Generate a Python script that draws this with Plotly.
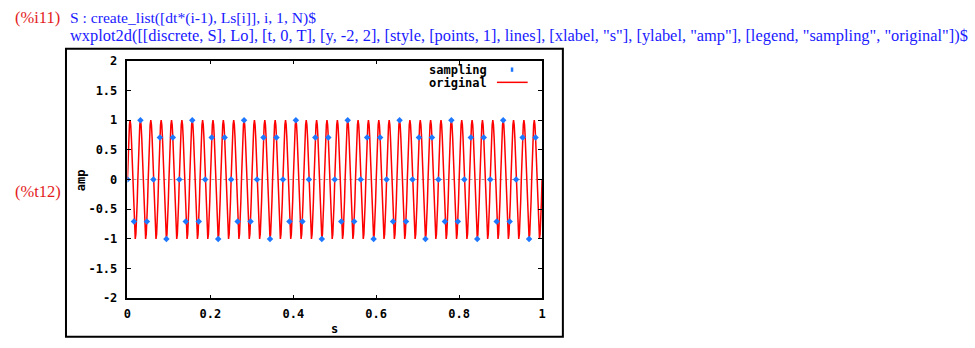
import numpy as np
import plotly.graph_objects as go

# ---------------- data ----------------
DT = 1 / 64
SAMPLE_VALUES = [
    0, -0.707, 1, -0.707, 0, 0.707, -1, 0.707,
    0, -0.707, 1, -0.707, 0, 0.707, -1, 0.707,
    0, -0.707, 1, -0.707, 0, 0.707, -1, 0.707,
    0, -0.707, 1, -0.707, 0, 0.707, -1, 0.707,
    0, -0.707, 1, -0.707, 0, 0.707, -1, 0.707,
    0, -0.707, 1, -0.707, 0, 0.707, -1, 0.707,
    0, -0.707, 1, -0.707, 0, 0.707, -1, 0.707,
    0, -0.707, 1, -0.707, 0, 0.707, -1, 0.707,
]
SAMPLE_T = np.arange(len(SAMPLE_VALUES)) * DT

# one period of the "original" waveform (40 periods on [0, 1])
ORIG_CYCLE = [0, 0.38, 0.71, 0.92, 1, 0.92, 0.71, 0.38,
              0, -0.38, -0.71, -0.92, -1, -0.92, -0.71, -0.38]
ORIG_PERIODS = 40
ORIG_VALUES = ORIG_CYCLE * ORIG_PERIODS + [0]
ORIG_T = np.linspace(0, 1, len(ORIG_VALUES))

X_TICKS = [0, 0.2, 0.4, 0.6, 0.8, 1]
X_TICK_TEXT = ["0", "0.2", "0.4", "0.6", "0.8", "1"]
Y_TICKS = [-2, -1.5, -1, -0.5, 0, 0.5, 1, 1.5, 2]
Y_TICK_TEXT = ["-2", "-1.5", "-1", "-0.5", "0", "0.5", "1", "1.5", "2"]

LINE1 = "S : create_list([dt*(i-1), Ls[i]], i, 1, N)$"
LINE2 = ('wxplot2d([[discrete, S], Lo], [t, 0, T], [y, -2, 2], [style, [points, 1], lines], '
         '[xlabel, "s"], [ylabel, "amp"], [legend, "sampling", "original"])$')

# ---------------- layout helpers ----------------
W, H = 975, 348


def px(x):
    return x / W


def py(y):
    return 1 - y / H


RED = "#ff0000"
BLUE = "#1e78ff"
LABEL_RED = "#e31b1b"
INPUT_BLUE = "#1a1aff"
SERIF = "Liberation Serif"
MONO = "DejaVu Sans Mono"

fig = go.Figure()
fig.add_trace(go.Scatter(x=ORIG_T, y=ORIG_VALUES, mode="lines",
                         line=dict(color=RED, width=1.5), name="original",
                         showlegend=False, hoverinfo="skip"))
fig.add_trace(go.Scatter(x=SAMPLE_T, y=SAMPLE_VALUES, mode="markers",
                         marker=dict(color=BLUE, symbol="diamond", size=5, line=dict(width=0)),
                         name="sampling", showlegend=False))

tickfont = dict(family=MONO, size=12, color="black", weight="bold")

fig.update_layout(
    width=W, height=H,
    margin=dict(l=0, r=0, t=0, b=0, pad=0),
    paper_bgcolor="white", plot_bgcolor="white",
    showlegend=False,
    xaxis=dict(domain=[px(124.5), px(542.5)], range=[0, 1], tickvals=X_TICKS,
               ticktext=X_TICK_TEXT, ticks="inside", ticklen=4, tickcolor="black",
               showline=True, linecolor="black", linewidth=1.5, mirror="ticks",
               showgrid=False, zeroline=False, tickfont=tickfont, ticklabelstandoff=4),
    yaxis=dict(domain=[py(303.5), py(56)], range=[-2, 2], tickvals=Y_TICKS,
               ticktext=Y_TICK_TEXT, ticks="inside", ticklen=4, tickcolor="black",
               showline=True, linecolor="black", linewidth=1.5, mirror="ticks",
               showgrid=False, zeroline=False, tickfont=tickfont, ticklabelstandoff=6),
)

# zero axis (gray dashed)
fig.add_shape(type="line", xref="x domain", yref="y", x0=0, x1=1, y0=0, y1=0,
              line=dict(color="#a0a0a0", width=1, dash="dot"), layer="below")

# image frame
fig.add_shape(type="rect", xref="paper", yref="paper",
              x0=px(62.5), x1=px(563.5), y0=py(343.5), y1=py(43.5),
              line=dict(color="black", width=2))

# legend keys
fig.add_shape(type="line", xref="paper", yref="paper",
              x0=px(497), x1=px(528), y0=py(78.5), y1=py(78.5),
              line=dict(color=RED, width=1.5))
fig.add_shape(type="rect", xref="paper", yref="paper",
              x0=px(511), x1=px(513.5), y0=py(67.5), y1=py(63),
              line=dict(width=0), fillcolor=BLUE)

ann = []


def text(x, y, s, color, family, size, xanchor="left", textangle=0, weight="normal"):
    ann.append(dict(x=px(x), y=py(y), xref="paper", yref="paper", text=s, showarrow=False,
                    xanchor=xanchor, yanchor="middle", textangle=textangle,
                    font=dict(color=color, family=family, size=size, weight=weight)))


text(9, 11, "(%i11)", LABEL_RED, SERIF, 16.5)
text(65, 11, LINE1, INPUT_BLUE, SERIF, 15.6)
text(65, 30, LINE2, INPUT_BLUE, SERIF, 16.4)
text(9, 192, "(%t12)", LABEL_RED, SERIF, 16.5)

text(489, 66, "sampling", "black", MONO, 12, xanchor="right", weight="bold")
text(489, 79, "original", "black", MONO, 12, xanchor="right", weight="bold")
text(333, 336, "s", "black", MONO, 12, xanchor="center", weight="bold")
text(77, 180, "amp", "black", MONO, 12, xanchor="center", textangle=-90, weight="bold")

fig.update_layout(annotations=ann)

fig.write_html("out.html")
